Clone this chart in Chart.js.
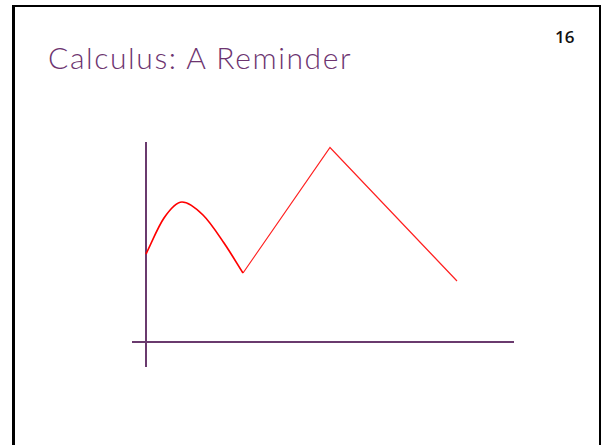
<!DOCTYPE html>
<html>
<head>
<meta charset="utf-8">
<script src="https://cdn.jsdelivr.net/npm/chart.js@4/dist/chart.umd.min.js"></script>
<style>
  html, body { margin: 0; padding: 0; background: #fff; width: 602px; height: 445px; overflow: hidden; }
  .slide {
    position: absolute; left: 12px; top: 5px; width: 584px; height: 460px;
    border-left: 3px solid #000; border-top: 2px solid #000; border-right: 2px solid #000;
  }
  .title {
    position: absolute; left: 48px; top: 39px; margin: 0;
    font-family: "Lato", sans-serif; font-weight: 300; font-size: 30px; letter-spacing: 1.6px;
    color: #6d3470; white-space: nowrap;
  }
  .page {
    position: absolute; left: 555px; top: 25px;
    font-family: "Open Sans", sans-serif; font-weight: 600; font-size: 17px; color: #111;
  }
  #wrap { position: absolute; left: 132px; top: 142px; width: 382px; height: 225px; }
</style>
</head>
<body>
<div class="slide"></div>
<div class="title">Calculus: A Reminder</div>
<div class="page">16</div>
<div id="wrap"><canvas id="c"></canvas></div>
<script>
// Smooth hump: from the y-axis up to a local maximum and down into the valley
const humpX = [0, 1.8, 3.6, 5.7, 7.8, 9.7];
const humpY = [8.8, 12.4, 14.0, 12.7, 9.9, 6.9];
// Straight pieces: valley -> sharp peak -> end
const kinkX = [9.7, 18.4, 31.1];
const kinkY = [6.9, 19.45, 6.1];
// Axis extents (the axes cross at 0, 0)
const xRange = [-1.4, 36.8];
const yRange = [-2.5, 20];

const toPoints = (xs, ys) => xs.map((x, i) => ({ x: x, y: ys[i] }));
const axisColor = '#6a3a6e';

function onlyZero(scale) { scale.ticks = [{ value: 0 }]; }

new Chart(document.getElementById('c'), {
  type: 'scatter',
  data: {
    datasets: [
      {
        data: toPoints(humpX, humpY),
        showLine: true,
        borderColor: '#ff0000',
        borderWidth: 1.7,
        pointRadius: 0,
        cubicInterpolationMode: 'monotone'
      },
      {
        data: toPoints(kinkX, kinkY),
        showLine: true,
        borderColor: '#ff2020',
        borderWidth: 1.2,
        pointRadius: 0,
        tension: 0
      }
    ]
  },
  options: {
    responsive: true,
    maintainAspectRatio: false,
    animation: false,
    layout: { padding: 0 },
    plugins: { legend: { display: false }, tooltip: { enabled: false }, title: { display: false } },
    scales: {
      x: {
        type: 'linear', min: xRange[0], max: xRange[1],
        afterBuildTicks: onlyZero,
        ticks: { display: false },
        border: { display: false },
        grid: { color: axisColor, lineWidth: 2, drawTicks: false }
      },
      y: {
        type: 'linear', min: yRange[0], max: yRange[1],
        afterBuildTicks: onlyZero,
        ticks: { display: false },
        border: { display: false },
        grid: { color: axisColor, lineWidth: 2, drawTicks: false }
      }
    }
  }
});
</script>
</body>
</html>
